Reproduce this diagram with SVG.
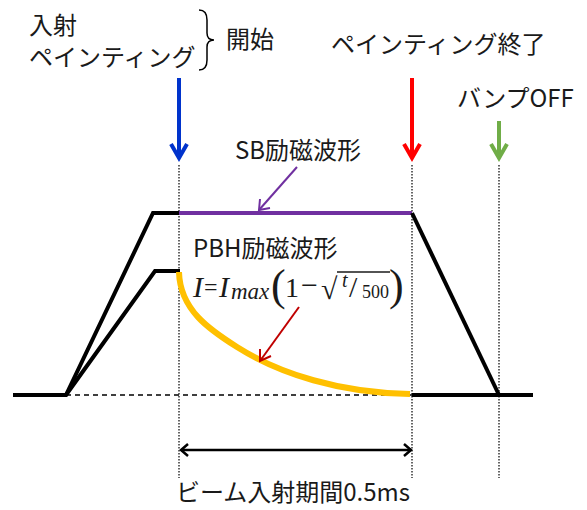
<svg xmlns="http://www.w3.org/2000/svg" width="587" height="510" viewBox="0 0 587 510">
<style>
.t{font-family:"Noto Sans CJK JP","Noto Sans",sans-serif;font-size:24px;fill:#1a1a1a}
.m{font-family:"Liberation Serif","DejaVu Serif",serif;font-style:italic;fill:#1a1a1a}
.mr{font-family:"Liberation Serif","DejaVu Serif",serif;fill:#1a1a1a}
.dot{stroke:#333;stroke-width:1.5;stroke-dasharray:1.5 1.5;fill:none}
.wave{stroke:#000;stroke-width:4;fill:none;stroke-linejoin:miter}
</style>
<rect width="587" height="510" fill="#fff"/>
<g id="guides">
<line class="dot" x1="179" y1="165" x2="179" y2="478"/>
<line class="dot" x1="412" y1="165" x2="412" y2="478"/>
<line class="dot" x1="499" y1="165" x2="499" y2="478"/>
<line x1="66" y1="395" x2="412" y2="395" stroke="#000" stroke-width="1.5" stroke-dasharray="5 4"/>
</g>
<g id="sb-wave">
<polyline class="wave" points="13,395 66,395 153,213 179,213"/>
<line x1="179" y1="213" x2="412" y2="213" stroke="#7030A0" stroke-width="4"/>
<polyline class="wave" points="412,213 499,395"/>
<line x1="412" y1="395" x2="533" y2="395" stroke="#000" stroke-width="4"/>
</g>
<g id="pbh-wave">
<polyline class="wave" points="66,395 155,271 180,271"/>
<path d="M179,272 C180,310 210,330 237,347 C280,374 340,393 410,394" stroke="#FFC000" stroke-width="6" fill="none"/>
</g>
<g id="connectors">
<g id="arrow-start" stroke="#0033CC" stroke-width="4" fill="none">
<line x1="179" y1="78" x2="179" y2="157"/>
<polyline points="171,144 179,158 187,144"/>
</g>
<g id="arrow-end" stroke="#FF0000" stroke-width="4" fill="none">
<line x1="412" y1="78" x2="412" y2="157"/>
<polyline points="404,144 412,158 420,144"/>
</g>
<g id="arrow-bump" stroke="#70AD47" stroke-width="4" fill="none">
<line x1="499" y1="121" x2="499" y2="157"/>
<polyline points="491,144 499,158 507,144"/>
</g>
<g id="arrow-sb" stroke="#7030A0" stroke-width="2" fill="none">
<line x1="297" y1="167" x2="259" y2="210"/>
<polyline points="260,199 259,210 270,208"/>
</g>
<g id="arrow-pbh" stroke="#C00000" stroke-width="2" fill="none">
<line x1="299" y1="307" x2="260" y2="361"/>
<polyline points="260,349 260,361 271,356"/>
</g>
<g id="arrow-period" stroke="#000" stroke-width="2.5" fill="none">
<line x1="181" y1="450" x2="411" y2="450"/>
<polyline points="188,444 181,450 188,456"/>
<polyline points="404,444 411,450 404,456"/>
</g>
</g>
<g id="label-start">
<text class="t" x="29" y="34">入射</text>
<text class="t" x="29" y="66">ペインティング</text>
<path d="M199,10 Q207,10 207,20 L207,33 Q207,40 214,40 Q207,40 207,47 L207,60 Q207,70 199,70" stroke="#000" stroke-width="1.5" fill="none"/>
<text class="t" x="226" y="48">開始</text>
</g>
<g id="label-end"><text class="t" x="331" y="53">ペインティング終了</text></g>
<g id="label-bump"><text class="t" x="457" y="107">バンプOFF</text></g>
<g id="label-sb"><text class="t" x="235" y="159">SB励磁波形</text></g>
<g id="label-pbh">
<text class="t" x="193" y="257">PBH励磁波形</text>
<text class="m" font-size="30" x="193" y="297">I</text>
<text class="mr" font-size="24" x="204" y="295">=</text>
<text class="m" font-size="30" x="219" y="297">I</text>
<text class="m" font-size="23" x="231" y="299">max</text>
<text class="mr" font-size="44" x="271" y="300">(</text>
<text class="mr" font-size="28" x="285" y="297">1</text>
<text class="mr" font-size="30" x="301" y="295">−</text>
<text class="mr" font-size="30" x="321" y="299">√</text>
<line x1="337" y1="272" x2="390" y2="272" stroke="#1a1a1a" stroke-width="1.5"/>
<text class="m" font-size="20" x="342" y="287">t</text>
<text class="mr" font-size="30" x="349" y="297">/</text>
<text class="mr" font-size="18" x="362" y="298">500</text>
<text class="mr" font-size="44" x="389" y="300">)</text>
</g>
<g id="label-period"><text class="t" x="293" y="501" text-anchor="middle">ビーム入射期間0.5ms</text></g>
</svg>
